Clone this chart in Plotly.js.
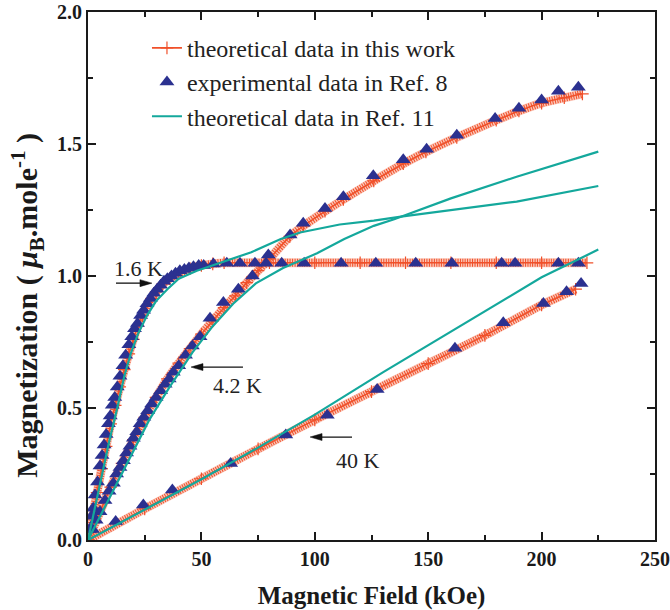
<!DOCTYPE html>
<html>
<head>
<meta charset="utf-8">
<script src="https://cdn.plot.ly/plotly-3.0.1.min.js"></script>
<style>html,body{margin:0;padding:0;background:#fff;}#chart{width:670px;height:610px;}</style>
</head>
<body>
<div id="chart"></div>
<script>
// ---- theoretical data in this work ----
const theo16X = [0,2,4,6,8,10,12,14,16,18,20,22,24,26,28,30,33,36,40,45,50,55,60,80,100,120,140,160,180,200,220];
const theo16Y = [0,0.09,0.18,0.27,0.355,0.44,0.51,0.58,0.645,0.705,0.76,0.81,0.85,0.885,0.915,0.94,0.97,0.99,1.01,1.028,1.04,1.046,1.05,1.05,1.05,1.05,1.05,1.05,1.05,1.05,1.05];
const theo42X = [0,5,10,15,20,25,30,35,40,45,50,55,60,65,70,75,80,89,95,104.5,112.6,126,139,149,162.6,180,190,200,210,218];
const theo42Y = [0,0.1,0.2,0.29,0.38,0.465,0.54,0.61,0.67,0.725,0.78,0.83,0.88,0.925,0.975,1.02,1.065,1.15,1.19,1.245,1.29,1.36,1.425,1.47,1.525,1.59,1.625,1.655,1.675,1.69];
const theo40X = [0,25,50,75,100,125,150,175,200,215];
const theo40Y = [0,0.118,0.232,0.345,0.455,0.562,0.668,0.775,0.89,0.95];

// ---- experimental data in Ref. 8 ----
const exp16X = [0.6,1.5,2.3,3.1,4.2,5.3,6.2,7.1,8.0,9.0,9.8,10.7,11.8,12.9,14.1,15.4,16.6,18.0,19.3,20.5,21.8,23.2,24.5,26.0,27.5,29.0,30.5,32.0,33.5,35.0,36.8,38.6,40.5,42.5,44.5,46.5,48.8,51.0,55.3,61.2,67.0,73.6,78.5,85.4,95.3,111.6,126.9,144.5,160.4,182.4,188.3,207.4,216.2];
const exp16Y = [0.04,0.09,0.12,0.17,0.22,0.28,0.32,0.36,0.40,0.44,0.47,0.51,0.54,0.58,0.62,0.66,0.70,0.74,0.77,0.80,0.82,0.85,0.87,0.895,0.915,0.935,0.95,0.965,0.98,0.99,1.0,1.01,1.02,1.025,1.03,1.035,1.04,1.04,1.045,1.048,1.048,1.048,1.048,1.048,1.048,1.048,1.048,1.048,1.048,1.048,1.048,1.048,1.048];
const exp42X = [2.0,3.6,5.3,7.5,9.3,11.2,12.6,14.1,15.6,17.0,18.5,20.0,21.5,23.0,24.6,26.3,28.1,30.0,32.0,34.0,35.8,37.6,40.0,43.0,46.0,49.4,53.8,59.7,66.3,72.5,79.5,89.1,94.9,104.5,112.6,125.8,139.0,149.3,162.6,179.5,190.0,200.0,207.4,216.2];
const exp42Y = [0.04,0.075,0.107,0.15,0.185,0.215,0.25,0.275,0.30,0.33,0.355,0.385,0.41,0.44,0.465,0.49,0.515,0.54,0.565,0.59,0.61,0.635,0.66,0.70,0.735,0.77,0.84,0.90,0.95,1.0,1.08,1.155,1.2,1.256,1.30,1.38,1.44,1.48,1.533,1.597,1.635,1.667,1.70,1.715];
const exp40X = [12.2,24.4,37.2,62.9,87.2,105.5,127.5,161.8,183.1,200.8,211.0,217.4];
const exp40Y = [0.07,0.133,0.189,0.29,0.398,0.473,0.57,0.726,0.823,0.896,0.94,0.972];

// ---- theoretical data in Ref. 11 ----
const ref16X = [0,3,6.3,9.5,12.9,16,19,22,26,30,35,40,48,60,72,85,93.5,111,126,138,160,189,225];
const ref16Y = [0,0.12,0.25,0.38,0.5,0.62,0.71,0.78,0.85,0.905,0.95,0.99,1.02,1.055,1.09,1.14,1.165,1.195,1.21,1.225,1.25,1.282,1.341];
const ref42X = [0,12,20,27,36,46,55,64,74,86,101,113,126,135,160,189,225];
const ref42Y = [0,0.2,0.335,0.455,0.58,0.71,0.81,0.895,0.972,1.03,1.086,1.14,1.19,1.215,1.294,1.376,1.471];
const ref40X = [0,25,50,75,100,130,160,200,225];
const ref40Y = [0,0.115,0.23,0.35,0.475,0.635,0.79,0.995,1.1];

const legendNames = ['theoretical data in this work','experimental data in Ref. 8','theoretical data in Ref. 11'];
const tempLabels = ['1.6 K','4.2 K','40 K'];
const xTitle = 'Magnetic Field (kOe)';
const yTitle = 'Magnetization ( <i>μ</i><sub>B</sub>.mole<sup>-1</sup> )';

const ORANGE = '#f0502a';
const HALO = 'rgba(246,130,100,0.45)';
const NAVY = '#2b3190';
const TEAL = '#14a89c';

const theo = [[theo16X,theo16Y],[theo42X,theo42Y],[theo40X,theo40Y]];
const exps = [[exp16X,exp16Y],[exp42X,exp42Y],[exp40X,exp40Y]];
const refs = [[ref16X,ref16Y],[ref42X,ref42Y],[ref40X,ref40Y]];

const traces = [];
theo.forEach(([x,y]) => {
  traces.push({x:x, y:y, type:'scatter', mode:'lines', showlegend:false, hoverinfo:'skip',
    line:{color:HALO, width:9, shape:'spline', smoothing:0.6}});
  traces.push({x:x, y:y, type:'scatter', mode:'lines', showlegend:false, hoverinfo:'skip',
    line:{color:ORANGE, width:8, dash:'1px,1.4px', shape:'spline', smoothing:0.6}});
});
theo.forEach(([x,y],i) => {
  traces.push({x:x, y:y, type:'scatter', mode:'lines+markers', name:legendNames[0],
    legendgroup:'g1', showlegend:i===0,
    line:{color:ORANGE, width:1.6, shape:'spline', smoothing:0.6},
    marker:{symbol:'cross-thin-open', size:9, line:{color:ORANGE, width:1.2}}});
});
exps.forEach(([x,y],i) => {
  traces.push({x:x, y:y, type:'scatter', mode:'markers', name:legendNames[1],
    legendgroup:'g2', showlegend:i===0,
    marker:{symbol:'triangle-up', size:13, color:NAVY}});
});
refs.forEach(([x,y],i) => {
  traces.push({x:x, y:y, type:'scatter', mode:'lines', name:legendNames[2],
    legendgroup:'g3', showlegend:i===0,
    line:{color:TEAL, width:2.2}});
});

const FONT = 'Liberation Serif, Times New Roman, serif';
const axisCommon = {
  showgrid:false, zeroline:false, showline:true, linecolor:'#1a1a1a', linewidth:2,
  mirror:'ticks', ticks:'inside', ticklen:8, tickwidth:2, tickcolor:'#1a1a1a',
  tickfont:{family:FONT, size:20, color:'#1a1a1a', weight:'bold'}
};

function arrow(xTip, yTip, len, dir) {
  const s = dir;
  return [
    {type:'line', xref:'x', yref:'y', xsizemode:'pixel', ysizemode:'pixel', xanchor:xTip, yanchor:yTip,
      x0:-s*len, x1:-s*8, y0:0, y1:0, line:{color:'#111', width:1.3}},
    {type:'path', xref:'x', yref:'y', xsizemode:'pixel', ysizemode:'pixel', xanchor:xTip, yanchor:yTip,
      path:'M0,0 L'+(-s*12)+',3.5 L'+(-s*12)+',-3.5 Z', fillcolor:'#111', line:{color:'#111', width:0.5}}
  ];
}

const layout = {
  width:670, height:610,
  margin:{l:88, r:15, t:12, b:70},
  paper_bgcolor:'#fff', plot_bgcolor:'#fff',
  showlegend:true,
  legend:{x:0.104, y:0.974, xanchor:'left', yanchor:'top', bgcolor:'rgba(0,0,0,0)',
    font:{family:FONT, size:24, color:'#222'}, traceorder:'grouped', tracegroupgap:0},
  xaxis:Object.assign({}, axisCommon, {range:[0,250], dtick:50, tick0:0,
    minor:{dtick:25, ticks:'inside', ticklen:5, tickwidth:2, tickcolor:'#1a1a1a'},
    title:{text:xTitle, font:{family:FONT, size:25, color:'#1a1a1a', weight:'bold'}, standoff:17}}),
  yaxis:Object.assign({}, axisCommon, {range:[0,2], dtick:0.5, tick0:0, tickformat:'.1f',
    minor:{dtick:0.25, ticks:'inside', ticklen:5, tickwidth:2, tickcolor:'#1a1a1a'}}),
  annotations:[
    {x:-0.108, y:0.445, xref:'paper', yref:'paper', text:yTitle, textangle:-90, showarrow:false,
      xanchor:'center', yanchor:'middle', font:{family:FONT, size:30, color:'#1a1a1a', weight:'bold'}},
    {x:22.3, y:1.03, xref:'x', yref:'y', text:tempLabels[0], showarrow:false, font:{family:FONT, size:22, color:'#222'}},
    {x:65.7, y:0.587, xref:'x', yref:'y', text:tempLabels[1], showarrow:false, font:{family:FONT, size:22, color:'#222'}},
    {x:119, y:0.303, xref:'x', yref:'y', text:tempLabels[2], showarrow:false, font:{family:FONT, size:22, color:'#222'}}
  ],
  shapes:[].concat(arrow(28.2,0.973,36,1), arrow(45.4,0.655,52,-1), arrow(97.9,0.39,42,-1))
};

Plotly.newPlot('chart', traces, layout, {displayModeBar:false, staticPlot:true});
</script>
</body>
</html>
